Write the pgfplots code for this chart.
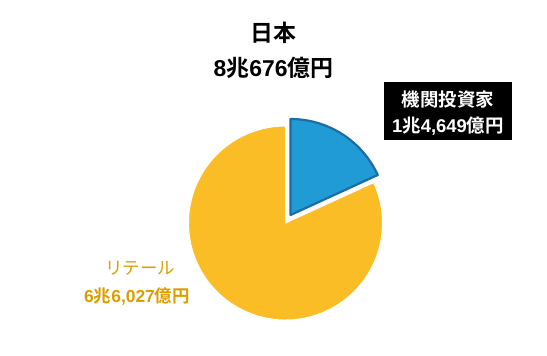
\documentclass[border=0pt]{standalone}
\usepackage{pgfplots}
\usepackage{pgfplotstable}
\pgfplotsset{compat=1.18}
\usepackage{fontspec}
\setmainfont{Noto Sans CJK JP}[BoldFont={Noto Sans CJK JP Bold}]
\newfontfamily\lat{Liberation Sans}
\definecolor{pieyellow}{HTML}{FBBD26}
\definecolor{pieblue}{HTML}{209BD6}
\definecolor{blueedge}{HTML}{1B6E9E}
\definecolor{labelorange}{HTML}{DC9D00}
\pgfplotstableread{
segment value
inst 14649
retail 66027
}\piedata
\pgfplotstablegetelem{0}{value}\of\piedata
\let\instval\pgfplotsretval
\pgfplotstablegetelem{1}{value}\of\piedata
\let\retailval\pgfplotsretval
\edef\instangle{\fpeval{round(360*\instval/(\instval+\retailval),3)}}
\edef\splitangle{\fpeval{90-\instangle}}
\begin{document}
\begin{tikzpicture}
\begin{axis}[
  hide axis, disabledatascaling,
  x=1bp, y=1bp,
  xmin=0, xmax=547, ymin=0, ymax=355,
  clip=false,
]
\path[use as bounding box] (axis cs:0,0) rectangle (axis cs:547,355);
% retail slice
\fill[pieyellow, draw=white, line width=1pt]
  (axis cs:285.5,132) -- ++({97*cos(\splitangle)*1bp},{97*sin(\splitangle)*1bp})
  arc[start angle=\splitangle, end angle=-270, radius=97bp] -- cycle;
% institutional slice (exploded)
\filldraw[fill=pieblue, draw=blueedge, line width=2.2pt, line join=round]
  (axis cs:290.5,140) -- ++(0,96bp)
  arc[start angle=90, end angle=\splitangle, radius=96bp] -- cycle;
% title
\node[font=\bfseries\fontsize{23}{27}\selectfont, anchor=center] at (axis cs:273.5,322) {日本};
\node[font=\bfseries\fontsize{23}{27}\selectfont, anchor=center] at (axis cs:273.5,287) {{\lat\bfseries 8}兆{\lat\bfseries 676}億円};
% institutional label
\fill[black] (axis cs:384,215) rectangle (axis cs:512,273);
\node[font=\bfseries\fontsize{18.5}{22}\selectfont, text=white, anchor=center] at (axis cs:448,255) {機関投資家};
\node[font=\bfseries\fontsize{18.5}{22}\selectfont, text=white, anchor=center] at (axis cs:448,229) {{\lat\bfseries 1}兆{\lat\bfseries 4,649}億円};
% retail label
\node[font=\fontsize{17.5}{20}\selectfont, text=labelorange, anchor=center] at (axis cs:140,87) {リテール};
\node[font=\bfseries\fontsize{17.5}{20}\selectfont, text=labelorange, anchor=center] at (axis cs:137,59) {{\lat\bfseries 6}兆{\lat\bfseries 6,027}億円};
\end{axis}
\end{tikzpicture}
\end{document}
